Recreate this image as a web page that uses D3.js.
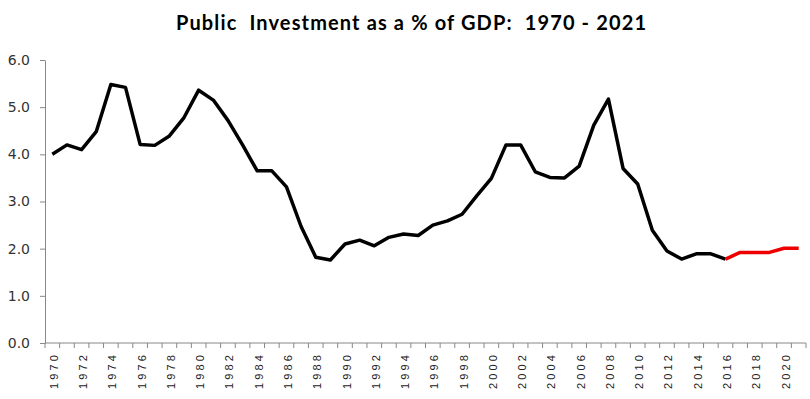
<!DOCTYPE html>
<html>
<head>
<meta charset="utf-8">
<script src="https://cdn.jsdelivr.net/npm/d3@7"></script>
<style>
  body { margin: 0; background: #fff; }
  svg { display: block; }
</style>
</head>
<body>
<div id="chart"></div>
<script>
// Years 1970 - 2021
const years = d3.range(1970, 2022);

// Actual values 1970 - 2016 (black line)
const actual = [
  4.0, 4.2, 4.1, 4.48, 5.48, 5.42, 4.21, 4.19, 4.39, 4.78,
  5.36, 5.15, 4.72, 4.2, 3.65, 3.65, 3.31, 2.47, 1.82, 1.76,
  2.1, 2.18, 2.06, 2.24, 2.31, 2.28, 2.5, 2.59, 2.73, 3.12,
  3.49, 4.2, 4.2, 3.63, 3.51, 3.5, 3.75, 4.62, 5.17, 3.7,
  3.37, 2.39, 1.95, 1.78, 1.89, 1.89, 1.78
];

// Projected values 2016 - 2021 (red line)
const projected = [1.78, 1.92, 1.92, 1.92, 2.01, 2.01];

const yTicks = [0, 1, 2, 3, 4, 5, 6];

const width = 810;
const height = 399;
const margin = { top: 60, right: 4, bottom: 56, left: 45 };

const svg = d3.select("#chart")
  .append("svg")
  .attr("width", width)
  .attr("height", height);

const x = d3.scaleBand()
  .domain(years)
  .range([margin.left, 806]);

const y = d3.scaleLinear()
  .domain([0, 6])
  .range([343, 60]);

const cx = d => x(d) + x.bandwidth() / 2;

// Title
svg.append("text")
  .attr("x", 411)
  .attr("y", 30)
  .attr("text-anchor", "middle")
  .attr("textLength", 470)
  .attr("lengthAdjust", "spacing")
  .style("font-family", "Lato, 'Open Sans', sans-serif")
  .style("font-weight", "bold")
  .style("font-size", "20px")
  .style("white-space", "pre")
  .attr("fill", "#000")
  .text("Public  Investment as a % of GDP:  1970 - 2021");

// Y axis
const yAxis = svg.append("g")
  .attr("transform", `translate(${margin.left},0)`)
  .call(d3.axisLeft(y).tickValues(yTicks).tickFormat(d3.format(".1f")).tickSize(5).tickSizeOuter(0));

yAxis.select(".domain").attr("stroke", "#888");
yAxis.selectAll(".tick line").attr("stroke", "#888");
yAxis.selectAll(".tick text")
  .attr("x", -15)
  .style("font-family", "'DejaVu Sans', Verdana, sans-serif")
  .style("font-size", "14px")
  .attr("fill", "#333");

// X axis with ticks between categories
const xAxis = svg.append("g").attr("transform", `translate(0,${y(0)})`);
xAxis.append("line")
  .attr("x1", margin.left).attr("x2", x.range()[1])
  .attr("stroke", "#888");
xAxis.selectAll("line.tk")
  .data(years.concat([2022]))
  .join("line")
  .attr("class", "tk")
  .attr("x1", d => d === 2022 ? x.range()[1] : x(d))
  .attr("x2", d => d === 2022 ? x.range()[1] : x(d))
  .attr("y1", 0).attr("y2", 5)
  .attr("stroke", "#888");

xAxis.selectAll("text")
  .data(years.filter(d => d % 2 === 0))
  .join("text")
  .attr("transform", d => `translate(${cx(d) + 5.5},12) rotate(-90)`)
  .attr("text-anchor", "end")
  .attr("textLength", 34)
  .attr("lengthAdjust", "spacing")
  .style("font-family", "'Liberation Sans', Arial, sans-serif")
  .style("font-size", "11px")
  .attr("fill", "#222")
  .text(d => d);

// Lines
const line = d3.line()
  .x(d => cx(d[0]))
  .y(d => y(d[1]));

svg.append("path")
  .datum(actual.map((v, i) => [years[i], v]))
  .attr("fill", "none")
  .attr("stroke", "#000")
  .attr("stroke-width", 3.5)
  .attr("stroke-linejoin", "round")
  .attr("d", line);

svg.append("path")
  .datum(projected.map((v, i) => [2016 + i, v]))
  .attr("fill", "none")
  .attr("stroke", "#ee0000")
  .attr("stroke-width", 3.5)
  .attr("stroke-linejoin", "round")
  .attr("d", line);
</script>
</body>
</html>
